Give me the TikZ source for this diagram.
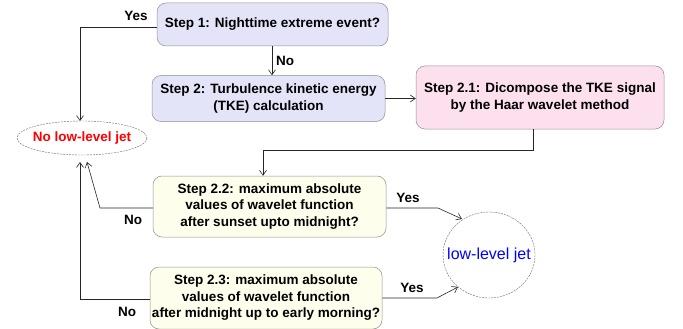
\documentclass[tikz,border=0pt]{standalone}
\usepackage{fontspec}
\setmainfont{Liberation Sans}
\usetikzlibrary{shapes.geometric,arrows.meta}
\definecolor{lav}{HTML}{E4E4F8}
\definecolor{pinkf}{HTML}{FDE0EE}
\definecolor{yelf}{HTML}{FEFEEC}
\definecolor{bord}{HTML}{909090}
\tikzset{
  stepbox/.style={draw=bord, line width=0.5pt, rounded corners=9pt, align=center,
    font=\bfseries\fontsize{13.5}{16.5}\selectfont, inner sep=0pt},
  conn/.style={draw=black!85, line width=0.6pt},
  arr/.style={conn, -{Straight Barb[length=5pt,width=7pt]}},
  lbl/.style={font=\bfseries\fontsize{13.5}{16}\selectfont, inner sep=0pt},
  endline/.style={draw=black!60, dashed, dash pattern=on 2pt off 1pt, line width=0.4pt}
}
\begin{document}
\begin{tikzpicture}[x=1pt,y=-1pt]
\useasboundingbox (0,0) rectangle (683,329);
\node[stepbox, fill=lav, minimum width=231pt, minimum height=43pt] (s1) at (272.5,24.5) {Step 1: Nighttime extreme event?};
\node[stepbox, fill=lav, minimum width=233pt, minimum height=46pt] (s2) at (268.5,98.5) {Step 2: Turbulence kinetic energy\\(TKE) calculation};
\node[stepbox, fill=pinkf, minimum width=248pt, minimum height=63pt] (s21) at (540,97.5) {Step 2.1: Dicompose the TKE signal\\by the Haar wavelet method};
\node[stepbox, fill=yelf, minimum width=233pt, minimum height=61pt] (s22) at (269.5,206.5) {Step 2.2: maximum absolute\\values of wavelet function\\after sunset upto midnight?};
\node[stepbox, fill=yelf, minimum width=232pt, minimum height=62pt] (s23) at (266,298) {Step 2.3: maximum absolute\\values of wavelet function\\after midnight up to early morning?};

\draw[endline] (82,138) ellipse [x radius=65, y radius=17];
\node[text=red, font=\bfseries\fontsize{13.5}{16}\selectfont, inner sep=0pt] (nolj) at (82,138) {No low-level jet};
\draw[endline] (489,255) ellipse [x radius=46, y radius=43];
\node[text=blue, font=\fontsize{16}{19}\selectfont, inner sep=0pt] (lj) at (489,255) {low-level jet};

\coordinate (y1) at (80,27);
\coordinate (e0) at (80,121);
\coordinate (c1) at (263,150);
\coordinate (b1) at (100,208);
\coordinate (e1) at (87,162);
\coordinate (e2) at (80,162);
\coordinate (r1) at (438,208);
\coordinate (r1e) at (462,219);
\coordinate (r2) at (437,298);
\coordinate (r2e) at (458,287);

\draw[arr] (s1.west |- y1) -- (y1) -- (e0);
\draw[arr] (s1.south -| 272,0) -- (272,0 |- s2.north);
\draw[arr] (s2.east) -- (s21.west |- s2.east);
\draw[arr] (s21.south -| 533,0) |- (c1) -- (c1 |- s22.north);
\draw[arr] (s22.west |- b1) -- (b1) -- (e1);
\draw[arr] (s23.west |- 0,299) -| (e2);
\draw[arr] (s22.east |- r1) -- (r1) -- (r1e);
\draw[arr] (s23.east |- r2) -- (r2) -- (r2e);

\node[lbl] (ly1) at (136,16) {Yes};
\node[lbl] (ln1) at (285,61) {No};
\node[lbl] (ln2) at (133,220) {No};
\node[lbl] (ln3) at (127,312) {No};
\node[lbl] (ly2) at (408,198) {Yes};
\node[lbl] (ly3) at (412,288) {Yes};
\end{tikzpicture}
\end{document}
